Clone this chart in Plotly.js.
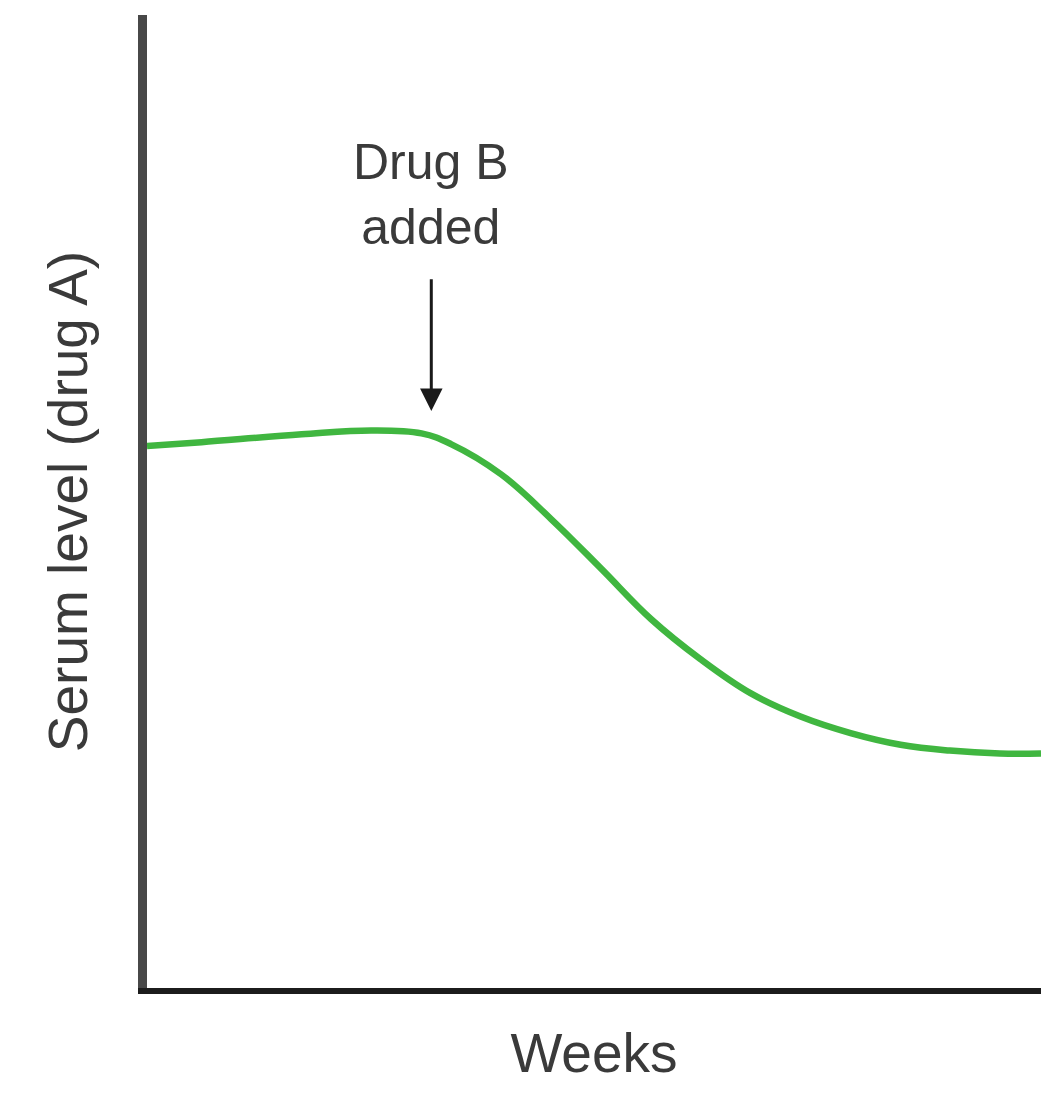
<!DOCTYPE html>
<html>
<head>
<meta charset="utf-8">
<script src="https://cdn.plot.ly/plotly-3.0.1.min.js"></script>
<style>html,body{margin:0;padding:0;background:#fff;}#chart{width:1051px;height:1110px;}</style>
</head>
<body>
<div id="chart"></div>
<script>
// Time (arbitrary units, weeks axis unlabeled) and serum level of drug A (arbitrary units)
const weeks = [0, 6.1, 17.3, 25.1, 30.7, 34.0, 39.6, 45.2, 50.8, 56.4, 61.9, 67.5, 73.1, 78.7, 84.3, 89.8, 95.4, 100];
const serumLevel = [55.7, 56.1, 56.9, 57.3, 57.0, 55.9, 52.8, 48.2, 43.1, 37.9, 33.8, 30.3, 27.9, 26.2, 25.0, 24.4, 24.1, 24.1];
const drugBWeek = 31.8;
const drugBLabel = "Drug B<br>added";

const trace = {
  x: weeks, y: serumLevel, type: 'scatter', mode: 'lines',
  line: {color: '#40b640', width: 6.5, shape: 'spline', smoothing: 1.1},
  hoverinfo: 'skip'
};

const layout = {
  width: 1051, height: 1110,
  margin: {l: 147, r: 10, t: 15, b: 122},
  paper_bgcolor: '#fff', plot_bgcolor: '#fff',
  showlegend: false,
  font: {family: 'Liberation Sans, Arial, sans-serif', color: '#3a3a3a'},
  xaxis: {
    range: [0, 100], showgrid: false, zeroline: false, showticklabels: false, ticks: '',
    showline: true, linecolor: '#1c1c1c', linewidth: 6,
    title: {text: 'Weeks', font: {size: 55, color: '#3a3a3a'}, standoff: 42}
  },
  yaxis: {
    range: [0, 100], showgrid: false, zeroline: false, showticklabels: false, ticks: '',
    showline: true, linecolor: '#484848', linewidth: 9,
    title: {text: 'Serum level (drug A)', font: {size: 55, color: '#3a3a3a'}, standoff: 36}
  },
  annotations: [
    {x: drugBWeek, y: 81.6, xref: 'x', yref: 'y', text: drugBLabel, showarrow: false,
     font: {size: 50, color: '#3a3a3a'}, align: 'center'},
    {x: drugBWeek, y: 59.3, xref: 'x', yref: 'y', ax: drugBWeek, ay: 73.0, axref: 'x', ayref: 'y',
     text: '', showarrow: true, arrowhead: 2, arrowsize: 1.5, arrowwidth: 3, arrowcolor: '#1a1a1a'}
  ]
};

Plotly.newPlot('chart', [trace], layout, {displayModeBar: false, staticPlot: true});
</script>
</body>
</html>
